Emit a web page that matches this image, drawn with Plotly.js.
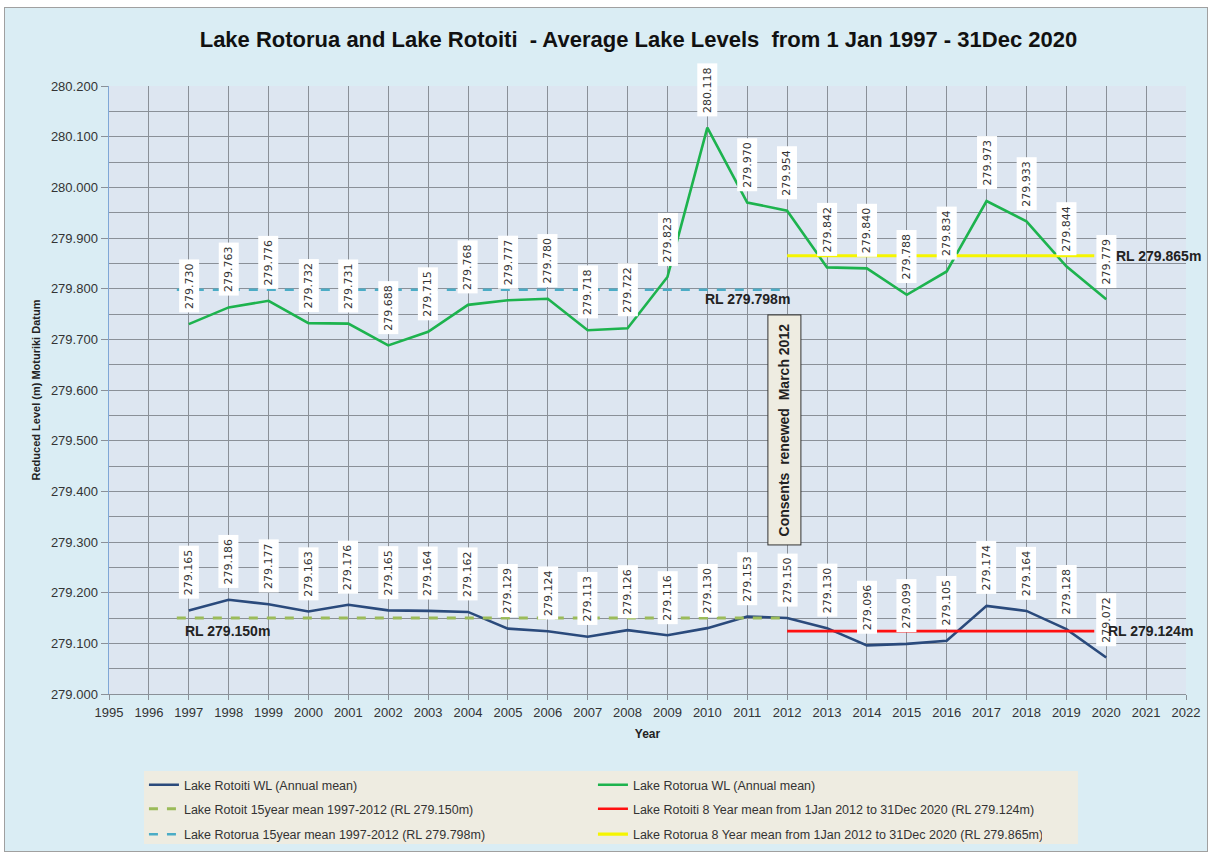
<!DOCTYPE html>
<html>
<head>
<meta charset="utf-8">
<script src="https://cdn.plot.ly/plotly-3.0.1.min.js"></script>
<style>
  html, body { margin: 0; padding: 0; background: #ffffff; }
  #chart { position: absolute; left: 4px; top: 7px; width: 1202px; height: 843px; border: 1px solid #a0a0a0; }
</style>
</head>
<body>
<div id="chart"></div>
<script>
// ---- Data ----
const years = [1997,1998,1999,2000,2001,2002,2003,2004,2005,2006,2007,2008,2009,2010,2011,2012,2013,2014,2015,2016,2017,2018,2019,2020];
const rotorua = [279.730,279.763,279.776,279.732,279.731,279.688,279.715,279.768,279.777,279.780,279.718,279.722,279.823,280.118,279.970,279.954,279.842,279.840,279.788,279.834,279.973,279.933,279.844,279.779];
const rotoiti = [279.165,279.186,279.177,279.163,279.176,279.165,279.164,279.162,279.129,279.124,279.113,279.126,279.116,279.130,279.153,279.150,279.130,279.096,279.099,279.105,279.174,279.164,279.128,279.072];

const mean15Years = [1996.7, 2012];
const mean8Years = [2012, 2019.7];
const rotoiti15Mean = 279.150;
const rotorua15Mean = 279.798;
const rotoiti8Mean = 279.124;
const rotorua8Mean = 279.865;

const xTicks = [1995,1996,1997,1998,1999,2000,2001,2002,2003,2004,2005,2006,2007,2008,2009,2010,2011,2012,2013,2014,2015,2016,2017,2018,2019,2020,2021,2022];

const names = [
  'Lake Rotoiti WL (Annual mean)',
  'Lake Rotorua WL (Annual mean)',
  'Lake Rotoit 15year mean 1997-2012 (RL 279.150m)',
  'Lake Rotoiti 8 Year mean from 1Jan 2012 to 31Dec 2020 (RL 279.124m)',
  'Lake Rotorua 15year mean 1997-2012 (RL 279.798m)',
  'Lake Rotorua 8 Year mean from 1Jan 2012 to 31Dec 2020 (RL 279.865m)'
];

const traces = [
  {x: years, y: rotoiti, name: names[0], legend: 'legend', mode: 'lines', line: {color: '#2a4a7c', width: 2.6}},
  {x: years, y: rotorua, name: names[1], legend: 'legend', mode: 'lines', line: {color: '#1db34e', width: 2.6}},
  {x: mean15Years, y: mean15Years.map(() => rotoiti15Mean), name: names[2], legend: 'legend2', mode: 'lines', line: {color: '#9bbb59', width: 3, dash: 'dash'}},
  {x: mean8Years, y: mean8Years.map(() => rotoiti8Mean), name: names[3], legend: 'legend2', mode: 'lines', line: {color: '#ff1010', width: 2.6}},
  {x: mean15Years, y: mean15Years.map(() => rotorua15Mean), name: names[4], legend: 'legend3', mode: 'lines', line: {color: '#4bacc6', width: 2.6, dash: 'dash'}},
  {x: mean8Years, y: mean8Years.map(() => rotorua8Mean), name: names[5], legend: 'legend3', mode: 'lines', line: {color: '#f5f500', width: 3.2}}
];

const labelFont = {family: 'DejaVu Sans', size: 11, color: '#333333'};
const annotations = [];
function addLabels(arr) {
  years.forEach((yr, i) => {
    annotations.push({
      x: yr, y: arr[i], xref: 'x', yref: 'y',
      text: arr[i].toFixed(3), textangle: -90, showarrow: false,
      xanchor: 'center', yanchor: 'bottom', yshift: 11,
      bgcolor: '#ffffff', borderpad: 3, font: labelFont
    });
  });
}
addLabels(rotorua);
addLabels(rotoiti);

const rlFont = {family: 'Liberation Sans', size: 14, color: '#222222'};
annotations.push(
  {x: 2011, y: rotorua15Mean, text: '<b>RL ' + rotorua15Mean.toFixed(3) + 'm</b>', showarrow: false, xanchor: 'center', yanchor: 'top', yshift: 1, font: rlFont},
  {x: 1996.85, y: rotoiti15Mean, text: '<b>RL ' + rotoiti15Mean.toFixed(3) + 'm</b>', showarrow: false, xanchor: 'left', yanchor: 'top', yshift: -3, font: rlFont},
  {x: 2020.0, y: rotoiti8Mean, text: '<b>RL ' + rotoiti8Mean.toFixed(3) + 'm</b>', showarrow: false, xanchor: 'left', yanchor: 'middle', font: rlFont},
  {x: 2020.2, y: rotorua8Mean, text: '<b>RL ' + rotorua8Mean.toFixed(3) + 'm</b>', showarrow: false, xanchor: 'left', yanchor: 'middle', font: rlFont},
  {x: 2011.92, y: 279.522, text: '<b>Consents&nbsp; renewed&nbsp; March 2012</b>', textangle: -90, showarrow: false,
   xanchor: 'center', yanchor: 'middle', bgcolor: '#eeece1', bordercolor: '#333333', borderwidth: 1, borderpad: 8,
   font: {family: 'Liberation Sans', size: 14, color: '#222222'}}
);

// legend rows (positioned in container coordinates)
const legendBase = {
  orientation: 'h', xref: 'container', yref: 'container',
  x: 0.1156, xanchor: 'left', yanchor: 'middle',
  bgcolor: 'rgba(0,0,0,0)', borderwidth: 0,
  entrywidth: 404, entrywidthmode: 'pixels',
  font: {family: 'Liberation Sans', size: 12.5, color: '#333333'},
  traceorder: 'normal'
};

const layout = {
  width: 1202, height: 843,
  paper_bgcolor: '#daedf4',
  plot_bgcolor: '#dde6f1',
  margin: {l: 104, r: 21, t: 78, b: 157, autoexpand: false},
  showlegend: true,
  title: {
    text: '<b>Lake Rotorua and Lake Rotoiti&nbsp; - Average Lake Levels&nbsp; from 1 Jan 1997 - 31Dec 2020</b>',
    font: {family: 'Liberation Sans Narrow, Liberation Sans', size: 22, color: '#111111'},
    x: 0.527, xanchor: 'center', y: 0.963, yanchor: 'middle'
  },
  xaxis: {
    range: [1995, 2022], tickvals: xTicks, ticktext: xTicks.map(String),
    automargin: false,
    showgrid: true, gridcolor: '#8a9098', gridwidth: 1,
    showline: true, linecolor: '#8a9098', linewidth: 1,
    ticks: 'outside', ticklen: 5, tickcolor: '#8a9098', ticklabelstandoff: 1,
    zeroline: false,
    tickfont: {family: 'Liberation Sans', size: 13, color: '#333333'},
    title: {text: '<b>Year</b>', font: {family: 'Liberation Sans', size: 12, color: '#222222'}, standoff: 11}
  },
  yaxis: {
    range: [279.0, 280.2], dtick: 0.1, tick0: 279.0, tickformat: '.3f',
    automargin: false,
    showgrid: true, gridcolor: '#8a9098', gridwidth: 1,
    minor: {dtick: 0.05, showgrid: true, gridcolor: '#8a9098', gridwidth: 1, ticks: ''},
    showline: true, linecolor: '#7fa7d6', linewidth: 1.5,
    ticks: 'outside', ticklen: 7, tickcolor: '#8a9098',
    zeroline: false,
    tickfont: {family: 'Liberation Sans', size: 13, color: '#333333'},
    title: {text: '<b>Reduced Level (m) Moturiki Datum</b>', font: {family: 'Liberation Sans', size: 11, color: '#222222'}, standoff: 8}
  },
  legend: Object.assign({}, legendBase, {y: 0.0781}),
  legend2: Object.assign({}, legendBase, {y: 0.0496}),
  legend3: Object.assign({}, legendBase, {y: 0.0195}),
  shapes: [
    {type: 'rect', xref: 'paper', yref: 'paper', x0: 0.0325, x1: 0.8997, y0: -0.1266, y1: -0.2467,
     fillcolor: '#eeece1', line: {width: 0}, layer: 'below'}
  ],
  annotations: annotations
};

Plotly.newPlot('chart', traces, layout, {displayModeBar: false, staticPlot: true});
</script>
</body>
</html>
